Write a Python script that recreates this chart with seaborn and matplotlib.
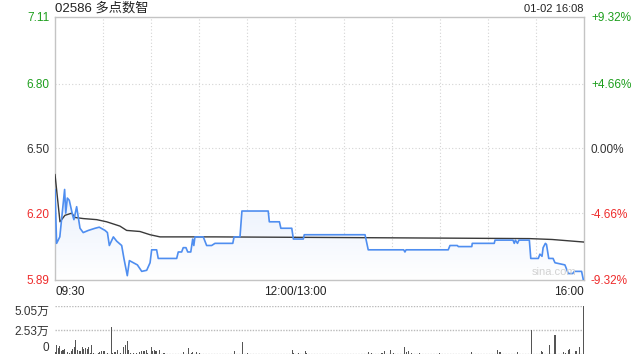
import numpy as np
import pandas as pd
import matplotlib
matplotlib.use("Agg")
import matplotlib.pyplot as plt
from matplotlib.colors import LinearSegmentedColormap
import seaborn as sns

# ---------------- data ----------------
title = "02586 多点数智"
stamp = "01-02 16:08"
prev_close = 6.50
price_ticks = [5.89, 6.20, 6.50, 6.80, 7.11]
price_tick_labels = ["5.89", "6.20", "6.50", "6.80", "7.11"]
pct_tick_labels = ["-9.32%", "-4.66%", "0.00%", "+4.66%", "+9.32%"]
time_ticks = [0, 150, 330]
time_tick_labels = ["09:30", "12:00/13:00", "16:00"]
vol_ticks = [0, 2.53, 5.05]
vol_tick_labels = ["0", "2.53万", "5.05万"]

# minutes since 09:30 (lunch break removed)
price_t = [0, 1, 3, 6, 6.7, 7.7, 8.9, 11, 11.8, 13.5, 15.6, 17.6, 20.8, 25, 27.6,
           31.2, 32.7, 33.9, 36.4, 38.5, 41.6, 43, 45.1, 46.4, 48.9, 51.4, 54.1,
           57.2, 59.3, 60.3, 63.4, 64.4, 75.9, 76.9, 79, 80, 81.7, 82.8, 84.7,
           85.9, 86.6, 87.3, 92.5, 94.6, 97.7, 99.8, 110.9, 111.7, 115.4, 116.6,
           133, 133.7, 140, 140.9, 147.7, 148.7, 154.9, 155.5, 193.4, 195.4,
           217.5, 218.3, 219, 245.3, 246.4, 251, 251.6, 260, 260.3, 274, 274.5,
           285.7, 286.5, 287.2, 288.5, 289.4, 295.9, 296.8, 301.5, 302.5, 303.8,
           304.5, 305.9, 306.6, 308, 310.7, 311.9, 318.1, 320.2, 323, 324, 328.5,
           329.6]
price_v = [6.31, 6.06, 6.09, 6.31, 6.20, 6.27, 6.26, 6.19, 6.17, 6.23, 6.13, 6.11,
           6.12, 6.13, 6.135, 6.12, 6.11, 6.05, 6.09, 6.07, 6.05, 5.99, 5.91, 5.98,
           5.97, 5.96, 5.93, 5.935, 5.97, 6.03, 6.03, 5.99, 5.99, 6.02, 6.02, 6.04,
           6.04, 6.02, 6.02, 6.08, 6.05, 6.09, 6.09, 6.05, 6.05, 6.06, 6.06, 6.09,
           6.09, 6.21, 6.21, 6.16, 6.16, 6.13, 6.13, 6.08, 6.08, 6.10, 6.10, 6.03,
           6.03, 6.02, 6.03, 6.03, 6.05, 6.05, 6.045, 6.045, 6.06, 6.06, 6.075,
           6.075, 6.06, 6.075, 6.06, 6.075, 6.075, 5.99, 5.99, 6.01, 6.00, 6.04,
           6.06, 6.055, 5.99, 5.99, 5.97, 5.96, 5.92, 5.92, 5.93, 5.93, 5.89]

avg_t = [0, 3.1, 6.2, 10.4, 12.5, 17.6, 26, 32.2, 34.3, 40.5, 44.7, 53, 59.3,
         65.5, 100, 150, 200, 250, 296, 310, 330]
avg_v = [6.38, 6.16, 6.19, 6.20, 6.18, 6.175, 6.17, 6.16, 6.155, 6.14, 6.12,
         6.115, 6.10, 6.09, 6.09, 6.088, 6.086, 6.084, 6.082, 6.078, 6.066]

vol_t = [0, 1, 2, 3, 4, 5, 6, 8, 9, 10, 11, 12, 13, 14, 15, 16, 17, 18, 19, 20,
         21, 22, 23, 24, 25, 27, 28, 29, 30, 31, 33, 35, 36, 37, 38, 39, 41, 43,
         44, 45, 46, 47, 49, 51, 53, 54, 55, 56, 57, 58, 60, 61, 62, 63, 65, 68,
         80, 83, 85, 86, 88, 90, 112, 117, 120, 148, 149, 152, 156, 157, 195.5,
         197.5, 204, 205.4, 209.2, 211, 217.9, 219.2, 220.4, 222.5, 227.5, 240,
         259.9, 276.1, 277.6, 288.4, 297.3, 303.2, 304.2, 308.4, 311.9, 317.1,
         318.3, 320.2, 321, 325, 327.1, 330]
vol_v = [0.18, 0.91, 0.63, 0.88, 0.28, 0.39, 0.53, 0.18, 0.10, 0.28, 0.53, 0.70,
         1.51, 0.46, 0.28, 0.35, 0.70, 0.56, 0.63, 0.53, 0.70, 0.10, 0.98, 0.10,
         0.04, 0.10, 0.21, 0.28, 0.28, 0.35, 0.10, 2.88, 0.10, 0.21, 0.21, 0.46,
         0.10, 0.70, 0.91, 1.33, 0.46, 0.10, 0.07, 0.10, 0.21, 0.28, 0.28, 0.35,
         0.46, 0.10, 0.77, 0.28, 0.39, 0.28, 0.46, 0.07, 0.18, 0.63, 0.10, 0.18,
         0.21, 0.10, 0.28, 1.30, 0.07, 0.46, 0.10, 0.07, 0.35, 0.07, 0.18, 0.10,
         0.10, 0.28, 0.46, 0.10, 0.77, 0.21, 0.35, 0.10, 0.10, 0.10, 0.21, 0.46,
         0.21, 0.21, 2.56, 0.35, 0.18, 0.98, 2.04, 0.21, 0.10, 0.46, 0.56, 0.28,
         0.70, 5.05]

# ---------------- style ----------------
sns.set_theme(style="white")
plt.rcParams["font.family"] = ["Liberation Sans", "Noto Sans CJK SC", "DejaVu Sans"]

GREEN = "#1d9e1d"
RED = "#ee2b2b"
DARK = "#333333"
GRID = "#d4d4d4"
BLUE = "#4f8ef0"

fig = plt.figure(figsize=(6.4, 3.6), dpi=100)
L, R = 55 / 640, 584 / 640
ax = fig.add_axes([L, 1 - 280 / 360, R - L, (280 - 17) / 360])
axv = fig.add_axes([L, 1 - 354 / 360, R - L, (354 - 306) / 360])

ymin, ymax = price_ticks[0], price_ticks[-1]
ax.set_xlim(0, 330)
ax.set_ylim(ymin, ymax)

# grid
for t in range(30, 330, 30):
    ax.axvline(t, color=GRID, lw=0.8, ls=(0, (1, 2)), zorder=0)
for p in price_ticks[1:-1]:
    ax.axhline(p, color=GRID, lw=0.8, ls=(0, (1, 2)), zorder=0)

df_p = pd.DataFrame({"t": price_t, "p": price_v})
df_a = pd.DataFrame({"t": avg_t, "p": avg_v})

# gradient fill under the price line
poly = ax.fill_between(df_p["t"], df_p["p"], ymin, color="none", lw=0)
cmap = LinearSegmentedColormap.from_list("g", ["#ffffff", "#e4edfc"])
grad = np.linspace(0, 1, 256).reshape(-1, 1)
im = ax.imshow(grad, cmap=cmap, aspect="auto", origin="lower",
               extent=[0, 330, ymin, 6.40], zorder=1)
path = poly.get_paths()[0]
im.set_clip_path(path, transform=ax.transData)

sns.lineplot(data=df_a, x="t", y="p", ax=ax, color="#3a3a3a", lw=1.0,
             estimator=None, sort=False, zorder=3)
sns.lineplot(data=df_p, x="t", y="p", ax=ax, color=BLUE, lw=1.2,
             estimator=None, sort=False, zorder=4)

ax.set_xlabel("")
ax.set_ylabel("")
for s in ax.spines.values():
    s.set_color("#c4c4c4")
    s.set_linewidth(1.0)

ax.set_yticks(price_ticks)
ax.set_yticklabels(price_tick_labels, fontsize=8.5)
ax.tick_params(axis="y", length=0, pad=4)
ycols = [RED, RED, DARK, GREEN, GREEN]
for lab, c in zip(ax.get_yticklabels(), ycols):
    lab.set_color(c)

ax2 = ax.twinx()
ax2.set_ylim(ymin, ymax)
ax2.set_yticks(price_ticks)
ax2.set_yticklabels(pct_tick_labels, fontsize=8.5)
ax2.tick_params(axis="y", length=0, pad=5)
for lab, c in zip(ax2.get_yticklabels(), ycols):
    lab.set_color(c)
for s in ax2.spines.values():
    s.set_visible(False)
ax2.grid(False)

ax.set_xticks(time_ticks)
ax.set_xticklabels(time_tick_labels, fontsize=8.5, color="#222222")
ax.tick_params(axis="x", length=0, pad=4)
xl = ax.get_xticklabels()
xl[0].set_ha("left")
xl[-1].set_ha("right")

ax.text(0.985, 0.012, "sina.com", transform=ax.transAxes, ha="right", va="bottom",
        fontsize=8, color="#d2d2d2", zorder=5)

# volume panel
axv.set_xlim(0, 330)
axv.set_ylim(0, vol_ticks[-1])
for v in vol_ticks:
    axv.axhline(v, color="#bbbbbb", lw=1.0, ls=(0, (1, 1)), zorder=0)
axv.bar(vol_t, vol_v, width=0.65, color="#555555", linewidth=0, zorder=2)
for s in axv.spines.values():
    s.set_visible(False)
axv.set_xticks([])
axv.set_yticks(vol_ticks)
axv.set_yticklabels(vol_tick_labels, fontsize=8.5, color=DARK)
axv.tick_params(axis="y", length=0, pad=4)
vl = axv.get_yticklabels()
vl[0].set_va("bottom")
vl[-1].set_va("top")
axv.grid(False)

fig.text(L, 1 - 8 / 360, title, ha="left", va="center", fontsize=9.5, color="#222222")
fig.text(R, 1 - 9 / 360, stamp, ha="right", va="center", fontsize=8, color="#222222")

fig.savefig("out.png", dpi=100)
